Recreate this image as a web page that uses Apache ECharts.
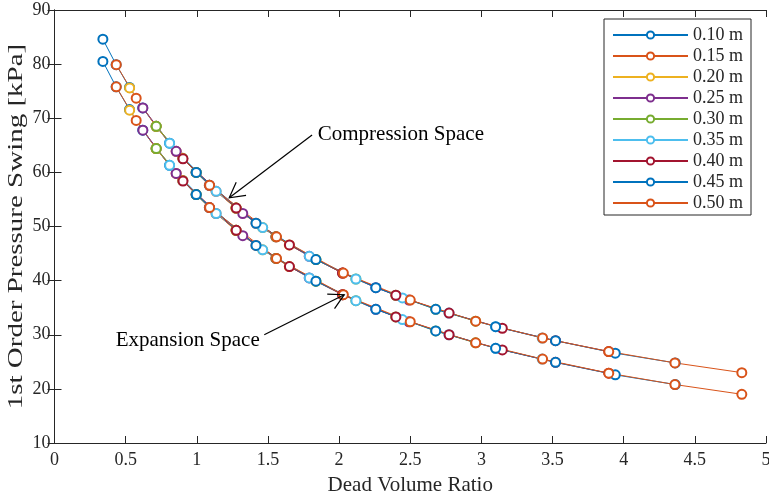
<!DOCTYPE html>
<html>
<head>
<meta charset="utf-8">
<script src="https://cdn.jsdelivr.net/npm/echarts@6/dist/echarts.min.js"></script>
<style>
html,body{margin:0;padding:0;background:#fff;}
#chart{width:769px;height:496px;}
</style>
</head>
<body>
<div id="chart"></div>
<script>
// ---- Data ----
const lengths = ['0.10 m','0.15 m','0.20 m','0.25 m','0.30 m','0.35 m','0.40 m','0.45 m','0.50 m'];

const ratio_010 = [0.340, 0.433, 0.527, 0.620, 0.714, 0.808, 0.901, 0.995, 1.088];
const comp_010  = [84.6, 79.9, 75.7, 71.9, 68.5, 65.4, 62.6, 60.0, 57.6];
const exp_010   = [80.5, 75.8, 71.6, 67.8, 64.4, 61.3, 58.5, 55.9, 53.5];

const ratio_015 = [0.434, 0.574, 0.714, 0.855, 0.995, 1.135, 1.275, 1.416, 1.556];
const comp_015  = [79.9, 73.7, 68.5, 63.9, 60.0, 56.5, 53.4, 50.6, 48.1];
const exp_015   = [75.8, 69.6, 64.4, 59.8, 55.9, 52.4, 49.3, 46.5, 44.1];

const ratio_020 = [0.528, 0.714, 0.901, 1.088, 1.276, 1.463, 1.650, 1.837, 2.024];
const comp_020  = [75.6, 68.5, 62.6, 57.6, 53.4, 49.8, 46.6, 43.9, 41.4];
const exp_020   = [71.5, 64.4, 58.5, 53.5, 49.3, 45.7, 42.6, 39.9, 37.4];

const ratio_025 = [0.621, 0.855, 1.089, 1.323, 1.556, 1.790, 2.024, 2.258, 2.491];
const comp_025  = [71.9, 63.9, 57.6, 52.4, 48.1, 44.5, 41.4, 38.7, 36.4];
const exp_025   = [67.8, 59.8, 53.5, 48.3, 44.1, 40.5, 37.4, 34.7, 32.4];

const ratio_030 = [0.715, 0.996, 1.276, 1.557, 1.837, 2.118, 2.398, 2.679, 2.959];
const comp_030  = [68.5, 60.0, 53.4, 48.1, 43.9, 40.3, 37.3, 34.7, 32.5];
const exp_030   = [64.4, 55.9, 49.3, 44.1, 39.9, 36.3, 33.3, 30.7, 28.5];

const ratio_035 = [0.809, 1.136, 1.463, 1.791, 2.118, 2.445, 2.772, 3.100, 3.427];
const comp_035  = [65.4, 56.5, 49.8, 44.5, 40.3, 36.8, 34.0, 31.5, 29.4];
const exp_035   = [61.3, 52.4, 45.7, 40.5, 36.3, 32.8, 30.0, 27.5, 25.5];

const ratio_040 = [0.903, 1.277, 1.651, 2.025, 2.399, 2.773, 3.147, 3.521, 3.895];
const comp_040  = [62.5, 53.4, 46.6, 41.4, 37.3, 34.0, 31.2, 28.9, 26.9];
const exp_040   = [58.4, 49.3, 42.6, 37.4, 33.3, 30.0, 27.2, 24.9, 22.9];

const ratio_045 = [0.996, 1.416, 1.837, 2.258, 2.679, 3.100, 3.521, 3.941, 4.362];
const comp_045  = [60.0, 50.6, 43.9, 38.7, 34.7, 31.5, 28.9, 26.6, 24.8];
const exp_045   = [55.9, 46.5, 39.9, 34.7, 30.7, 27.5, 24.9, 22.6, 20.8];

const ratio_050 = [1.090, 1.560, 2.030, 2.500, 2.960, 3.430, 3.895, 4.360, 4.830];
const comp_050  = [57.6, 48.1, 41.4, 36.4, 32.5, 29.4, 26.9, 24.8, 23.0];
const exp_050   = [53.5, 44.1, 37.4, 32.4, 28.5, 25.5, 22.9, 20.8, 19.0];

const xTicks = [0, 0.5, 1, 1.5, 2, 2.5, 3, 3.5, 4, 4.5, 5];
const yTicks = [10, 20, 30, 40, 50, 60, 70, 80, 90];

// ---- Styling / layout ----
const colors = ['#0072BD','#D95319','#EDB120','#7E2F8E','#77AC30','#4DBEEE','#A2142F','#0072BD','#D95319'];
const ratios = [ratio_010, ratio_015, ratio_020, ratio_025, ratio_030, ratio_035, ratio_040, ratio_045, ratio_050];
const comps  = [comp_010, comp_015, comp_020, comp_025, comp_030, comp_035, comp_040, comp_045, comp_050];
const exps   = [exp_010, exp_015, exp_020, exp_025, exp_030, exp_035, exp_040, exp_045, exp_050];

const FONT = 'Liberation Serif';
const AX = '#262626';

const series = [];
lengths.forEach((name, i) => {
  [comps[i], exps[i]].forEach(vals => {
    series.push({
      type: 'line',
      name: name,
      data: ratios[i].map((x, k) => [x, vals[k]]),
      symbol: 'emptyCircle',
      symbolSize: 9,
      showSymbol: true,
      color: colors[i],
      lineStyle: { width: 1, color: colors[i] },
      itemStyle: { color: colors[i], borderWidth: 1.1, borderColor: colors[i] },
      emphasis: { disabled: true },
      animation: false,
      z: 2
    });
  });
});

const axisCommon = {
  axisLine: { show: true, lineStyle: { color: AX, width: 1 } },
  axisTick: { show: true, inside: true, length: 7, lineStyle: { color: AX, width: 1 } },
  splitLine: { show: false }
};

const chart = echarts.init(document.getElementById('chart'), null, { renderer: 'canvas' });

const option = {
  animation: false,
  backgroundColor: '#fff',
  grid: { left: 54.5, right: 3, top: 10, bottom: 53, containLabel: false, outerBoundsMode: 'none' },
  xAxis: [
    Object.assign({
      type: 'value', min: xTicks[0], max: xTicks[xTicks.length - 1], interval: 0.5,
      position: 'bottom',
      name: 'Dead Volume Ratio', nameLocation: 'middle', nameGap: 32,
      nameTextStyle: { fontFamily: FONT, fontSize: 21, color: AX },
      axisLabel: { fontFamily: FONT, fontSize: 18, color: AX, margin: 8,
        formatter: v => String(v) }
    }, axisCommon),
    Object.assign({
      type: 'value', min: xTicks[0], max: xTicks[xTicks.length - 1], interval: 0.5,
      position: 'top', axisLabel: { show: false }
    }, axisCommon)
  ],
  yAxis: [
    Object.assign({
      type: 'value', min: yTicks[0], max: yTicks[yTicks.length - 1], interval: 10,
      position: 'left',
      axisLabel: { fontFamily: FONT, fontSize: 18, color: AX, margin: 4 }
    }, axisCommon),
    Object.assign({
      type: 'value', min: yTicks[0], max: yTicks[yTicks.length - 1], interval: 10,
      position: 'right', axisLabel: { show: false }
    }, axisCommon)
  ],
  legend: {
    data: lengths,
    orient: 'vertical',
    left: 604, top: 19,
    itemWidth: 75, itemHeight: 9, itemGap: 3,
    padding: [7, 8, 3, 8],
    backgroundColor: '#fff',
    borderColor: AX, borderWidth: 1, borderRadius: 0,
    textStyle: { fontFamily: FONT, fontSize: 18, color: AX, lineHeight: 17 },
    selectedMode: false
  },
  series: series
};
chart.setOption(option);

// ---- Annotations (in data coordinates) ----
const yAxisTitle = '1st Order Pressure Swing [kPa]';
const annotations = [
  { text: 'Compression Space', textAt: [1.85, 67.0], tail: [1.81, 66.9], tip: [1.228, 55.3] },
  { text: 'Expansion Space', textAt: [0.43, 28.9], tail: [1.474, 30.0], tip: [2.036, 37.4] }
];

const graphics = [];
annotations.forEach(a => {
  const p0 = chart.convertToPixel({ gridIndex: 0 }, a.tail);
  const p1 = chart.convertToPixel({ gridIndex: 0 }, a.tip);
  const ang = Math.atan2(p1[1] - p0[1], p1[0] - p0[0]);
  const L = 17, h = 0.5;
  const h1 = [p1[0] - L * Math.cos(ang - h), p1[1] - L * Math.sin(ang - h)];
  const h2 = [p1[0] - L * Math.cos(ang + h), p1[1] - L * Math.sin(ang + h)];
  graphics.push({ type: 'line', z: 10, shape: { x1: p0[0], y1: p0[1], x2: p1[0], y2: p1[1] },
    style: { stroke: '#000', lineWidth: 1.2 } });
  graphics.push({ type: 'polyline', z: 10, shape: { points: [h1, p1, h2] },
    style: { stroke: '#000', fill: null, lineWidth: 1.2 } });
  const pt = chart.convertToPixel({ gridIndex: 0 }, a.textAt);
  graphics.push({ type: 'text', z: 10, x: pt[0], y: pt[1],
    style: { text: a.text, fontFamily: FONT, fontSize: 21, fill: '#000',
      textAlign: 'left', textVerticalAlign: 'middle' } });
});
// y-axis title, elongated along its length like the reference
const yMid = chart.convertToPixel({ gridIndex: 0 }, [0, (yTicks[0] + yTicks[yTicks.length - 1]) / 2]);
graphics.push({ type: 'text', z: 10, x: 16, y: yMid[1], rotation: Math.PI / 2, scaleX: 1.38,
  style: { text: yAxisTitle, fontFamily: FONT, fontSize: 21, fill: AX,
    textAlign: 'center', textVerticalAlign: 'middle' } });
chart.setOption({ graphic: graphics });
</script>
</body>
</html>
